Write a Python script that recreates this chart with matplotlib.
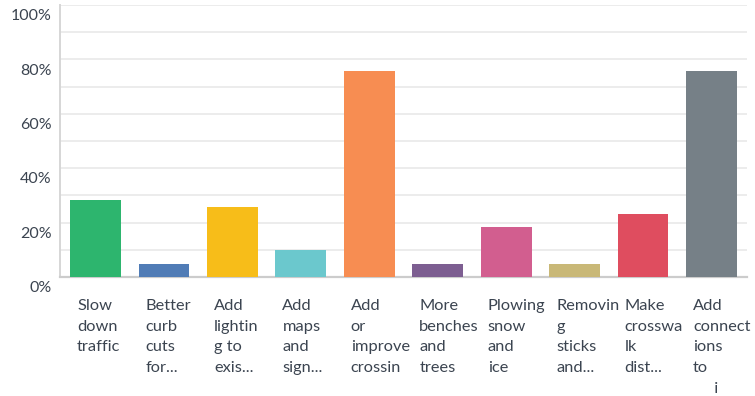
import matplotlib
matplotlib.use('Agg')
from matplotlib import pyplot as plt
from matplotlib import transforms

# categories (as truncated in the survey export) and percentages
labels = [
    "Slow\ndown\ntraffic",
    "Better\ncurb\ncuts\nfor...",
    "Add\nlightin\ng to\nexis...",
    "Add\nmaps\nand\nsign...",
    "Add\nor\nimprove\ncrossin",
    "More\nbenches\nand\ntrees",
    "Plowing\nsnow\nand\nice",
    "Removin\ng\nsticks\nand...",
    "Make\ncrosswa\nlk\ndist...",
    "Add\nconnect\nions\nto\n     i",
]
values = [28.4, 4.9, 25.8, 10.0, 75.7, 4.9, 18.2, 4.9, 23.0, 75.7]
colors = ['#2db56e', '#507cb6', '#f7bd19', '#6bc8cd', '#f78d52',
          '#7d5e91', '#d25e8f', '#c9b877', '#df4d5f', '#768087']
yticks = [0, 20, 40, 60, 80, 100]

plt.rcParams['font.family'] = ['Lato', 'DejaVu Sans']
txt = '#3b4450'

fig = plt.figure(figsize=(7.55, 3.96), dpi=100)
ax = fig.add_axes([60/755, 119/396, 687/755, 272/396])

x = range(len(values))
ax.bar(x, values, width=0.745, color=colors, zorder=3)

ax.set_xlim(-0.52, 9.52)
ax.set_ylim(0, 100)
ax.set_yticks(yticks)
ax.set_yticklabels([f"{v}%" for v in yticks], fontsize=11.5, color=txt)
ax.set_yticks(range(0, 101, 10), minor=True)
ax.grid(axis='y', which='both', color='#ececec', linewidth=1.4, zorder=0)
ax.tick_params(axis='y', which='both', length=0, pad=6)
ax.set_xticks([])

# y labels sit a little below their grid line
off = transforms.ScaledTranslation(0, -7/72, fig.dpi_scale_trans)
for lab in ax.get_yticklabels():
    lab.set_transform(lab.get_transform() + off)

for s in ['top', 'right']:
    ax.spines[s].set_visible(False)
ax.spines['left'].set_color('#d6d6d6')
ax.spines['left'].set_linewidth(1.4)
ax.spines['bottom'].set_color('#cccccc')
ax.spines['bottom'].set_linewidth(1.6)

trans = transforms.blended_transform_factory(ax.transData, ax.transAxes)
for i, lab in enumerate(labels):
    ax.text(i - 0.27, -0.08, lab, transform=trans, ha='left', va='top',
            fontsize=11.8, color=txt, linespacing=1.62)

fig.savefig('out.png', dpi=100)
